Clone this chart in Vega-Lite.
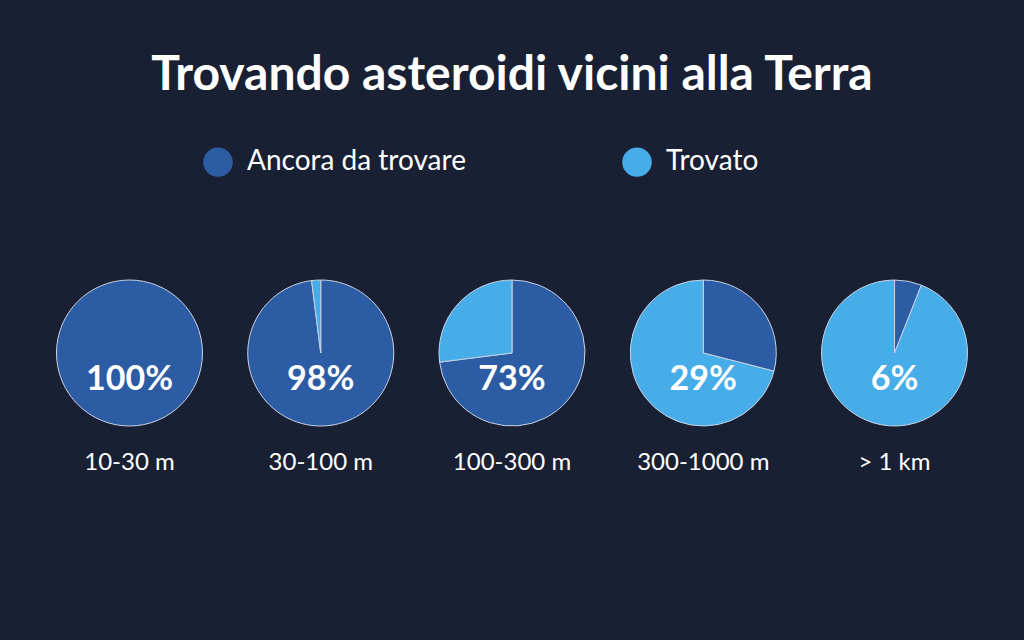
{
  "$schema": "https://vega.github.io/schema/vega-lite/v6.json",
  "autosize": "none",
  "width": 1024,
  "height": 466,
  "padding": {"top": 120, "left": 0, "right": 0, "bottom": 54},
  "background": "#1a2033",
  "config": {"view": {"stroke": null}, "font": "Lato"},
  "title": {
    "text": "Trovando asteroidi vicini alla Terra",
    "anchor": "middle",
    "fontSize": 48,
    "fontWeight": "bold",
    "font": "Lato",
    "color": "#ffffff",
    "baseline": "alphabetic",
    "offset": -18
  },
  "data": {
    "values": [
      {"size": "10-30 m", "stato": "Ancora da trovare", "value": 1.0},
      {"size": "10-30 m", "stato": "Trovato", "value": 0.0},
      {"size": "30-100 m", "stato": "Ancora da trovare", "value": 0.98},
      {"size": "30-100 m", "stato": "Trovato", "value": 0.02},
      {"size": "100-300 m", "stato": "Ancora da trovare", "value": 0.73},
      {"size": "100-300 m", "stato": "Trovato", "value": 0.27},
      {"size": "300-1000 m", "stato": "Ancora da trovare", "value": 0.29},
      {"size": "300-1000 m", "stato": "Trovato", "value": 0.71},
      {"size": "> 1 km", "stato": "Ancora da trovare", "value": 0.06},
      {"size": "> 1 km", "stato": "Trovato", "value": 0.94}
    ]
  },
  "encoding": {
    "x": {
      "field": "size",
      "type": "ordinal",
      "sort": ["10-30 m", "30-100 m", "100-300 m", "300-1000 m", "> 1 km"],
      "scale": {"type": "point", "padding": 0.677},
      "axis": null
    }
  },
  "layer": [
    {
      "transform": [
        {"stack": "value", "groupby": ["size"], "sort": [{"field": "stato", "order": "ascending"}], "as": ["v0", "v1"]},
        {"filter": "datum.value > 0"}
      ],
      "mark": {"type": "arc", "outerRadius": 73, "stroke": "#c9d2e3", "strokeWidth": 1},
      "encoding": {
        "theta": {"field": "v0", "type": "quantitative", "scale": {"domain": [0, 1]}},
        "theta2": {"field": "v1"},
        "color": {
          "field": "stato",
          "type": "nominal",
          "scale": {"domain": ["Ancora da trovare", "Trovato"], "range": ["#2c5ca4", "#47ade8"]},
          "legend": {
            "title": null,
            "orient": "none",
            "direction": "horizontal",
            "legendX": 203,
            "legendY": 27,
            "padding": 0,
            "symbolType": "circle",
            "symbolSize": 870,
            "symbolStrokeWidth": 0,
            "symbolOpacity": 1,
            "labelFont": "Lato",
            "labelFontSize": 28,
            "labelColor": "#ffffff",
            "labelOffset": 14,
            "columnPadding": 156,
            "labelLimit": 400
          }
        }
      }
    },
    {
      "transform": [{"filter": "datum.stato === 'Ancora da trovare'"}],
      "mark": {"type": "text", "font": "Lato", "fontWeight": "bold", "fontSize": 34, "color": "#ffffff", "baseline": "middle", "dy": 27},
      "encoding": {
        "text": {"field": "value", "type": "quantitative", "format": ".0%"}
      }
    },
    {
      "transform": [{"filter": "datum.stato === 'Ancora da trovare'"}],
      "mark": {"type": "text", "font": "Lato", "fontSize": 24, "color": "#ffffff", "baseline": "middle", "dy": 110},
      "encoding": {
        "text": {"field": "size", "type": "nominal"}
      }
    }
  ]
}
